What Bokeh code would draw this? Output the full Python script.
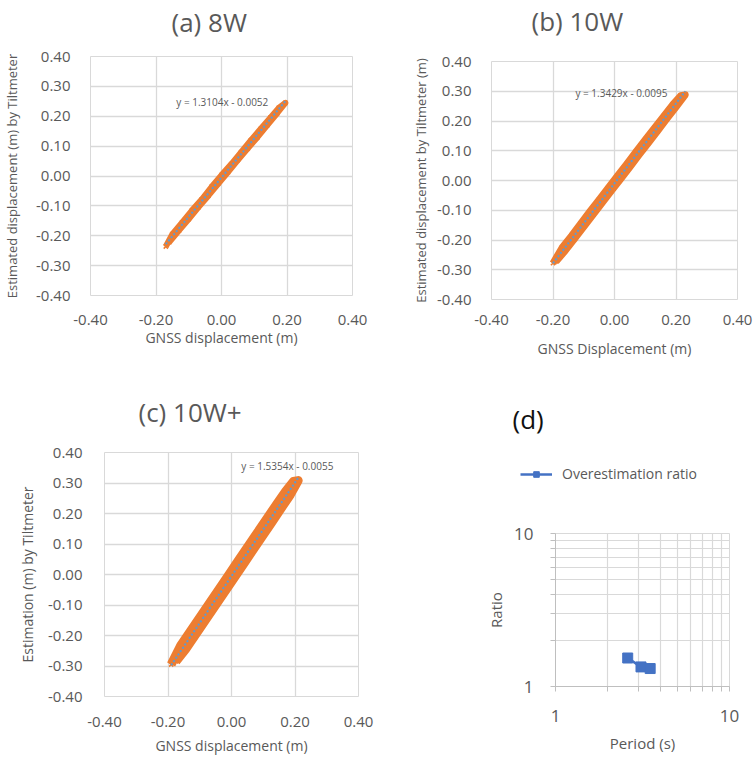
from bokeh.plotting import figure
from bokeh.layouts import row, column
from bokeh.models import FixedTicker, PrintfTickFormatter, Label, Legend, LegendItem, Title
from bokeh.embed import file_html
from bokeh.resources import INLINE

# ---------------- data ----------------
# (a) 8W
gnss_a = [-0.170, -0.150, -0.120, -0.090, -0.060, -0.030, 0.000, 0.030, 0.060, 0.090, 0.120, 0.150, 0.175, 0.195,
          0.170, 0.140, 0.110, 0.080, 0.050, 0.020, -0.010, -0.040, -0.070, -0.100, -0.130, -0.160]
est_a = [-0.236, -0.195, -0.155, -0.115, -0.078, -0.036, 0.003, 0.040, 0.080, 0.120, 0.158, 0.196, 0.228, 0.245,
         0.210, 0.170, 0.130, 0.092, 0.053, 0.013, -0.026, -0.066, -0.104, -0.144, -0.183, -0.222]
slope_a, intercept_a = 1.3104, -0.0052

# (b) 10W
gnss_b = [-0.200, -0.170, -0.140, -0.110, -0.080, -0.050, -0.020, 0.010, 0.040, 0.070, 0.100, 0.130, 0.160, 0.190,
          0.215, 0.230, 0.200, 0.170, 0.140, 0.110, 0.080, 0.050, 0.020, -0.010, -0.040, -0.070, -0.100, -0.130,
          -0.160, -0.190]
est_b = [-0.278, -0.225, -0.186, -0.145, -0.104, -0.064, -0.024, 0.016, 0.056, 0.097, 0.137, 0.177, 0.216, 0.256,
         0.285, 0.288, 0.247, 0.207, 0.166, 0.126, 0.086, 0.045, 0.005, -0.035, -0.075, -0.116, -0.156, -0.196,
         -0.236, -0.272]
slope_b, intercept_b = 1.3429, -0.0095

# (c) 10W+
gnss_c = [-0.190, -0.160, -0.130, -0.100, -0.070, -0.040, -0.010, 0.020, 0.050, 0.080, 0.110, 0.140, 0.170, 0.195,
          0.210, 0.185, 0.155, 0.125, 0.095, 0.065, 0.035, 0.005, -0.025, -0.055, -0.085, -0.115, -0.145, -0.175]
est_c = [-0.295, -0.233, -0.187, -0.141, -0.095, -0.049, -0.003, 0.043, 0.089, 0.135, 0.181, 0.227, 0.272, 0.305,
         0.308, 0.261, 0.215, 0.168, 0.122, 0.076, 0.030, -0.016, -0.062, -0.108, -0.154, -0.200, -0.246, -0.285]
slope_c, intercept_c = 1.5354, -0.0055

# (d) overestimation ratio
period_d = [2.6, 3.1, 3.5]
ratio_d = [1.5354, 1.3429, 1.3104]

y_ticks = [-0.4, -0.3, -0.2, -0.1, 0.0, 0.1, 0.2, 0.3, 0.4]
x_ticks = [-0.4, -0.2, 0.0, 0.2, 0.4]

FONT = "Open Sans"
GRID = "#D9D9D9"
TXT = "#595959"
ORANGE = "#ED7D31"
TREND = "#5B9BD5"
MARK = "#4472C4"


def style_axes(p):
    for ax in (p.xaxis[0], p.yaxis[0]):
        ax.major_label_text_font = FONT
        ax.major_label_text_font_size = "15px"
        ax.major_label_text_color = TXT
        ax.axis_label_text_font = FONT
        ax.axis_label_text_font_style = "normal"
        ax.axis_label_text_color = TXT


def scatter_panel(title, gx, gy, slope, intercept, eq_x, eq_y, xlabel, ylabel,
                  width, height, bl, br, bt, bb, t_off, gap,
                  ytick_stand, ylab_stand, xtick_stand, xlab_stand, lw, ylab_size):
    p = figure(width=width, height=height, x_range=(-0.4, 0.4), y_range=(-0.4, 0.4),
               output_backend="svg", toolbar_location=None,
               min_border_left=bl, min_border_right=br, min_border_top=bt, min_border_bottom=bb)
    p.title.text = title
    p.title.text_font = FONT
    p.title.text_font_size = "26px"
    p.title.text_font_style = "normal"
    p.title.text_color = TXT
    p.title.align = "left"
    p.title.offset = t_off
    p.title.standoff = 0
    # blank spacer between the title and the plot area
    p.add_layout(Title(text=" ", text_font_size="1px", standoff=gap), "above")
    p.outline_line_color = GRID
    p.background_fill_color = "white"
    p.border_fill_color = "white"

    p.xaxis.ticker = FixedTicker(ticks=x_ticks)
    p.yaxis.ticker = FixedTicker(ticks=y_ticks)
    p.xaxis.formatter = PrintfTickFormatter(format="%.2f")
    p.yaxis.formatter = PrintfTickFormatter(format="%.2f")
    p.xgrid.ticker = FixedTicker(ticks=x_ticks)
    p.ygrid.ticker = FixedTicker(ticks=y_ticks)
    for g in (p.xgrid[0], p.ygrid[0]):
        g.grid_line_color = GRID
        g.grid_line_width = 1.3
    for ax in (p.xaxis[0], p.yaxis[0]):
        ax.axis_line_color = None
        ax.major_tick_line_color = None
        ax.minor_tick_line_color = None
        ax.major_tick_out = 0
        ax.major_tick_in = 0
    style_axes(p)
    p.xaxis.axis_label = xlabel
    p.yaxis.axis_label = ylabel
    p.xaxis.axis_label_text_font_size = "14px"
    p.yaxis.axis_label_text_font_size = ylab_size
    p.yaxis.major_label_standoff = ytick_stand
    p.xaxis.major_label_standoff = xtick_stand
    p.yaxis.axis_label_standoff = ylab_stand
    p.xaxis.axis_label_standoff = xlab_stand

    p.line(gx, gy, line_color=ORANGE, line_width=lw, line_join="round")
    p.scatter(gx, gy, marker="x", size=6, line_color=ORANGE, line_width=1.5)
    tx = [min(gx), max(gx)]
    ty = [slope * v + intercept for v in tx]
    p.line(tx, ty, line_color=TREND, line_width=2, line_dash="2 2")
    sign = "-" if intercept < 0 else "+"
    p.add_layout(Label(x=eq_x, y=eq_y, text=f"y = {slope:.4f}x {sign} {abs(intercept):.4f}",
                       text_font=FONT, text_font_size="10px", text_color=TXT,
                       text_baseline="middle", text_align="left"))
    return p


pa = scatter_panel("(a) 8W", gnss_a, est_a, slope_a, intercept_a, -0.138, 0.249,
                   "GNSS displacement (m)", "Estimated displacement (m) by Tiltmeter",
                   383, 364, 89, 31, 56, 69, 81, 14,
                   20, 12, 19, 0, 6, "13px")
pb = scatter_panel("(b) 10W", gnss_b, est_b, slope_b, intercept_b, -0.127, 0.293,
                   "GNSS Displacement (m)", "Estimated displacement by Tiltmeter (m)",
                   370, 364, 108, 16, 60, 65, 40, 20,
                   20, 4, 15, 11, 7, "13px")
pc = scatter_panel("(c) 10W+", gnss_c, est_c, slope_c, intercept_c, 0.031, 0.357,
                   "GNSS displacement (m)", "Estimation (m) by Tiltmeter",
                   383, 394, 104, 25, 88, 62, 34, 20,
                   22, 8, 20, 6, 9, "14px")

# ---------------- (d) header: title + legend ----------------
hd = figure(width=370, height=136, x_range=(20, 30), y_range=(20, 30),
            output_backend="svg", toolbar_location=None,
            x_axis_location=None, y_axis_location=None,
            min_border_left=0, min_border_right=0, min_border_top=72, min_border_bottom=0)
hd.grid.visible = False
hd.outline_line_color = None
hd.title.text = "(d)"
hd.title.text_font = FONT
hd.title.text_font_size = "26px"
hd.title.text_font_style = "normal"
hd.title.text_color = "#111111"
hd.title.align = "left"
hd.title.offset = 129
hd.title.standoff = 0
h_line = hd.line(period_d, ratio_d, line_color=MARK, line_width=2.6)
h_mark = hd.scatter(period_d, ratio_d, marker="square", size=10, color=MARK)
leg = Legend(items=[LegendItem(label="Overestimation ratio", renderers=[h_line, h_mark])],
             location=(137, 17), border_line_color=None, background_fill_alpha=0,
             label_text_font=FONT, label_text_font_size="14px", label_text_color=TXT,
             glyph_width=32, glyph_height=14, padding=0, margin=0, label_standoff=10)
hd.add_layout(leg, "center")

# ---------------- (d) plot ----------------
pd_ = figure(width=370, height=258, x_axis_type="log", y_axis_type="log",
             x_range=(1, 10), y_range=(1, 10), output_backend="svg", toolbar_location=None,
             min_border_left=172, min_border_right=24, min_border_top=33, min_border_bottom=72)
pd_.outline_line_color = GRID
minor = [2, 3, 4, 5, 6, 7, 8, 9]
for ax in (pd_.xaxis[0], pd_.yaxis[0]):
    ax.ticker = FixedTicker(ticks=[1, 10], minor_ticks=minor)
    ax.axis_line_color = "#BFBFBF"
    ax.major_tick_line_color = "#BFBFBF"
    ax.minor_tick_line_color = "#BFBFBF"
    ax.major_tick_out = 5
    ax.major_tick_in = 0
    ax.minor_tick_out = 5
    ax.minor_tick_in = 0
pd_.xaxis.formatter = PrintfTickFormatter(format="%d")
pd_.yaxis.formatter = PrintfTickFormatter(format="%d")
for g in (pd_.xgrid[0], pd_.ygrid[0]):
    g.ticker = FixedTicker(ticks=[1, 10], minor_ticks=minor)
    g.grid_line_color = GRID
    g.minor_grid_line_color = GRID
    g.grid_line_width = 1.2
    g.minor_grid_line_width = 1.2
style_axes(pd_)
pd_.xaxis.axis_label = "Period (s)"
pd_.yaxis.axis_label = "Ratio"
pd_.xaxis.axis_label_text_font_size = "15px"
pd_.yaxis.axis_label_text_font_size = "15px"
pd_.xaxis.major_label_text_font_size = "17px"
pd_.yaxis.major_label_text_font_size = "17px"
pd_.yaxis.major_label_standoff = 17
pd_.xaxis.major_label_standoff = 18
pd_.yaxis.axis_label_standoff = 5
pd_.xaxis.axis_label_standoff = 8

pd_.line(period_d, ratio_d, line_color=MARK, line_width=2.6)
pd_.scatter(period_d, ratio_d, marker="square", size=10, color=MARK)

cell_d = column(row(hd), row(pd_))
layout = column(row(column(pa), column(pb)), row(column(pc), cell_d))
open("out.html", "w").write(file_html(layout, INLINE))
